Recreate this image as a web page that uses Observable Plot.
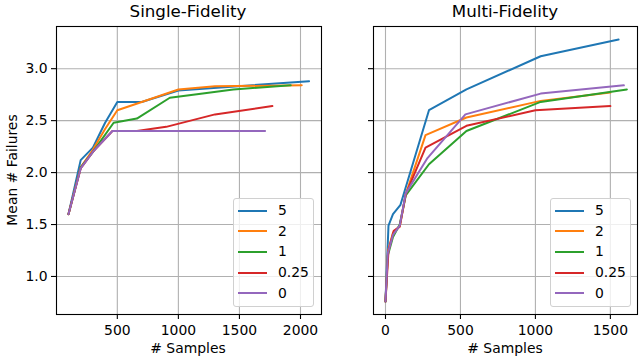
<!DOCTYPE html>
<html>
<head>
<meta charset="utf-8">
<script src="https://cdn.jsdelivr.net/npm/d3@7"></script>
<script src="https://cdn.jsdelivr.net/npm/@observablehq/plot@0.6"></script>
<style>
  html, body { margin: 0; padding: 0; background: #fff; }
  #root { position: relative; width: 642px; height: 362px; font-family: "DejaVu Sans", sans-serif; color: #000; overflow: hidden; }
  .abs { position: absolute; }
  .title { font-size: 16.7px; white-space: nowrap; transform: translateX(-50%); }
  .xlab { font-size: 13.9px; white-space: nowrap; transform: translateX(-50%); }
  .ylab { font-size: 13.9px; white-space: nowrap; transform: translate(-50%, -50%) rotate(-90deg); }
  .legend { border: 1px solid #d0d0d0; border-radius: 3px; background: rgba(255,255,255,0.8); box-sizing: border-box; }
  .legend .row { position: absolute; left: 0; font-size: 13.9px; line-height: 14px; white-space: nowrap; }
  .legend .sw { position: absolute; height: 2px; }
</style>
</head>
<body>
<div id="root"></div>
<script>
// ---- data ----
const seriesNames = ["5", "2", "1", "0.25", "0"];
const seriesColors = ["#1f77b4", "#ff7f0e", "#2ca02c", "#d62728", "#9467bd"];

// Single-Fidelity
const sfX_5    = [100, 200, 300, 400, 500, 700, 1000, 2070];
const sfY_5    = [1.60, 2.12, 2.24, 2.48, 2.68, 2.68, 2.79, 2.88];
const sfX_2    = [100, 200, 300, 400, 500, 700, 1000, 1300, 2010];
const sfY_2    = [1.60, 2.05, 2.22, 2.42, 2.60, 2.68, 2.80, 2.83, 2.84];
const sfX_1    = [100, 200, 300, 470, 660, 930, 1200, 1450, 1920];
const sfY_1    = [1.60, 2.05, 2.20, 2.48, 2.52, 2.72, 2.76, 2.80, 2.84];
const sfX_025  = [100, 200, 300, 460, 660, 900, 1300, 1770];
const sfY_025  = [1.60, 2.04, 2.20, 2.40, 2.40, 2.44, 2.56, 2.64];
const sfX_0    = [100, 200, 300, 460, 1710];
const sfY_0    = [1.60, 2.04, 2.20, 2.40, 2.40];

// Multi-Fidelity
const mfX_5    = [0, 20, 50, 100, 290, 540, 1035, 1555];
const mfY_5    = [0.76, 1.49, 1.60, 1.69, 2.60, 2.80, 3.12, 3.28];
const mfX_2    = [0, 17, 50, 95, 135, 267, 540, 1035, 1500];
const mfY_2    = [0.76, 1.25, 1.42, 1.48, 1.79, 2.36, 2.53, 2.69, 2.77];
const mfX_1    = [0, 15, 50, 95, 135, 290, 540, 1035, 1610];
const mfY_1    = [0.76, 1.20, 1.38, 1.50, 1.78, 2.08, 2.40, 2.68, 2.80];
const mfX_025  = [0, 20, 55, 95, 135, 267, 540, 1000, 1500];
const mfY_025  = [0.76, 1.25, 1.44, 1.48, 1.79, 2.24, 2.45, 2.60, 2.64];
const mfX_0    = [0, 15, 50, 95, 135, 280, 533, 1035, 1590];
const mfY_0    = [0.76, 1.22, 1.40, 1.49, 1.80, 2.14, 2.56, 2.76, 2.84];

const yTicks = [1.0, 1.5, 2.0, 2.5, 3.0];
const sfXTicks = [500, 1000, 1500, 2000];
const mfXTicks = [0, 500, 1000, 1500];

// ---- build tables ----
function table(xs, ys) {
  const out = [];
  seriesNames.forEach((s, i) => xs[i].forEach((x, j) => out.push({s, x, y: ys[i][j]})));
  return out;
}
const sfData = table([sfX_5, sfX_2, sfX_1, sfX_025, sfX_0], [sfY_5, sfY_2, sfY_1, sfY_025, sfY_0]);
const mfData = table([mfX_5, mfX_2, mfX_1, mfX_025, mfX_0], [mfY_5, mfY_2, mfY_1, mfY_025, mfY_0]);

const yDomain = [0.634, 3.406];
const gridStyle = {stroke: "#b0b0b0", strokeOpacity: 1, strokeWidth: 1.1};

function panel({data, width, marginLeft, marginRight, xDomain, xTicks, showYLabels}) {
  return Plot.plot({
    width, height: 362,
    marginTop: 26, marginBottom: 48, marginLeft, marginRight,
    style: {fontFamily: "DejaVu Sans", fontSize: "13.9px", color: "#000", background: "transparent", overflow: "visible"},
    x: {domain: xDomain},
    y: {domain: yDomain},
    color: {domain: seriesNames, range: seriesColors},
    marks: [
      Plot.gridX(xTicks, gridStyle),
      Plot.gridY(yTicks, gridStyle),
      Plot.line(data, {x: "x", y: "y", z: "s", stroke: "s", strokeWidth: 2, strokeLinejoin: "round"}),
      Plot.frame({stroke: "#000", strokeWidth: 1.1}),
      Plot.axisX({ticks: xTicks, tickSize: 5, tickPadding: 6, label: null, tickFormat: d => String(d), strokeWidth: 1.1}),
      Plot.axisY({ticks: yTicks, tickSize: 5, tickPadding: 4, label: null,
                  tickFormat: showYLabels ? (d => d.toFixed(1)) : (() => ""), strokeWidth: 1.1})
    ]
  });
}

const root = document.getElementById("root");

function place(el, left, top) {
  el.style.position = "absolute";
  el.style.left = left + "px";
  el.style.top = top + "px";
  root.appendChild(el);
}

const left = panel({data: sfData, width: 330, marginLeft: 56, marginRight: 9,
                    xDomain: [2, 2172], xTicks: sfXTicks, showYLabels: true});
place(left, 0, 0);
const right = panel({data: mfData, width: 312, marginLeft: 43, marginRight: 5,
                     xDomain: [-80, 1681], xTicks: mfXTicks, showYLabels: false});
place(right, 330, 0);

function text(cls, str, x, y) {
  const d = document.createElement("div");
  d.className = "abs " + cls;
  d.textContent = str;
  d.style.left = x + "px";
  d.style.top = y + "px";
  root.appendChild(d);
  return d;
}
text("title", "Single-Fidelity", 188, 1);
text("title", "Multi-Fidelity", 505, 1);
text("xlab", "# Samples", 188, 340);
text("xlab", "# Samples", 505, 340);
const yl = text("ylab", "Mean # Failures", 12, 170);

function legend(x, y) {
  const box = document.createElement("div");
  box.className = "abs legend";
  box.style.left = x + "px";
  box.style.top = y + "px";
  box.style.width = "81px";
  box.style.height = "109px";
  seriesNames.forEach((s, i) => {
    const cy = 11.5 + i * 20.7;
    const sw = document.createElement("div");
    sw.className = "sw";
    sw.style.left = "4px";
    sw.style.width = "29px";
    sw.style.top = (cy - 1) + "px";
    sw.style.background = seriesColors[i];
    box.appendChild(sw);
    const t = document.createElement("div");
    t.className = "row";
    t.style.left = "44px";
    t.style.top = (cy - 7.5) + "px";
    t.textContent = s;
    box.appendChild(t);
  });
  root.appendChild(box);
}
legend(233, 198);
legend(550, 198);
</script>
</body>
</html>
